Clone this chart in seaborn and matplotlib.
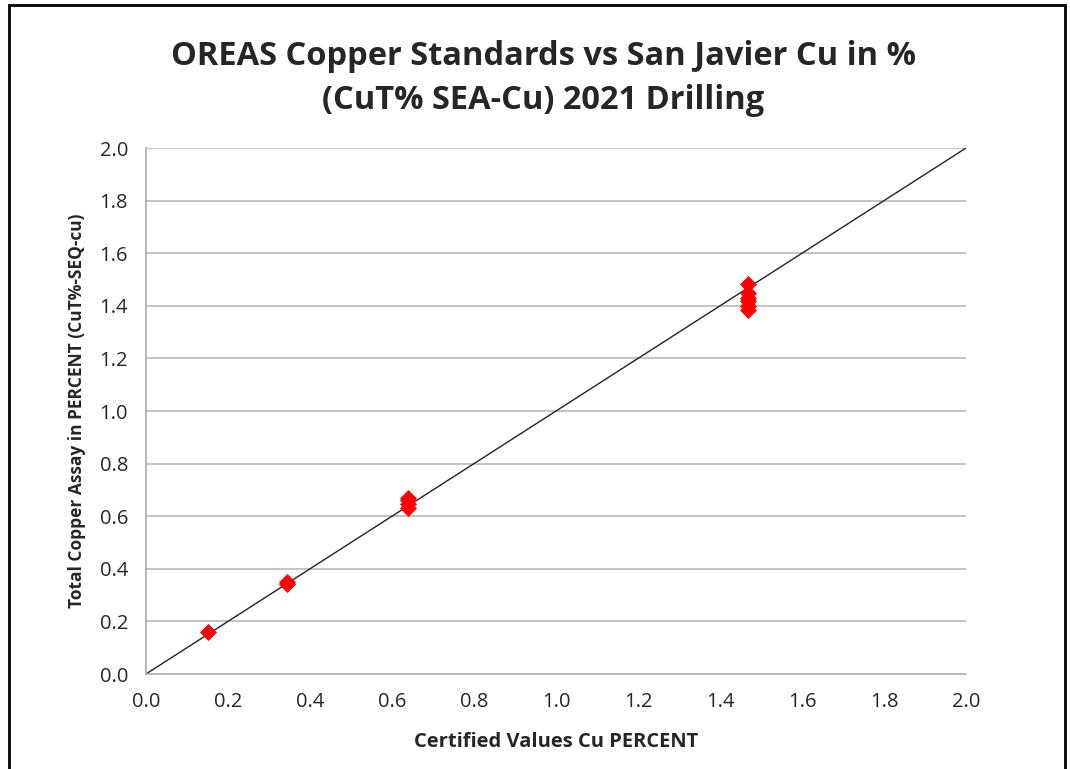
import matplotlib
matplotlib.use("Agg")
import matplotlib.pyplot as plt
import seaborn as sns
import pandas as pd
from matplotlib.patches import Rectangle

# --- data ---
certified = [0.152, 0.344, 0.344,
             0.638, 0.638, 0.638, 0.638,
             1.468, 1.468, 1.468, 1.468, 1.468, 1.468]
assay = [0.160, 0.342, 0.350,
         0.630, 0.645, 0.660, 0.668,
         1.482, 1.450, 1.430, 1.420, 1.400, 1.385]
line_x = [0.0, 2.0]
line_y = [0.0, 2.0]
ticks = [0.0, 0.2, 0.4, 0.6, 0.8, 1.0, 1.2, 1.4, 1.6, 1.8, 2.0]

df = pd.DataFrame({"Certified": certified, "Assay": assay})

sns.set_theme(style="white")
plt.rcParams['font.family'] = ['Open Sans', 'DejaVu Sans']

fig = plt.figure(figsize=(10.7, 7.69), dpi=100)
ax = fig.add_axes([0.1364, 0.1235, 0.7664, 0.684])

# grid first so it sits under the data
for t in ticks[1:]:
    ax.axhline(t, color='#b3b3b3', lw=1.1, zorder=0)

ax.plot(line_x, line_y, color='#222222', lw=1.0, zorder=2)
sns.scatterplot(data=df, x="Certified", y="Assay", marker='D', s=75,
                color='#ff0000', edgecolor='#ff0000', linewidth=0, ax=ax, zorder=3)

ax.set_xlim(0, 2.0)
ax.set_ylim(0, 2.0)
ax.set_xticks(ticks)
ax.set_yticks(ticks)
ax.set_xticklabels([f"{t:.1f}" for t in ticks], fontsize=14.5)
ax.set_yticklabels([f"{t:.1f}" for t in ticks], fontsize=14.5)
ax.tick_params(axis='both', direction='out', length=6, width=1, color='#a6a6a6', pad=7)
for side in ['top', 'right']:
    ax.spines[side].set_visible(False)
for side in ['left', 'bottom']:
    ax.spines[side].set_color('#a6a6a6')
    ax.spines[side].set_linewidth(1.1)

ax.set_xlabel("Certified Values Cu PERCENT", fontsize=14.5, fontweight='bold', labelpad=14)
ax.set_ylabel("Total Copper Assay in PERCENT (CuT%-SEQ-cu)", fontsize=12.5, fontweight='bold', labelpad=10)

fig.text(0.508, 0.898, "OREAS Copper Standards vs San Javier Cu in %\n(CuT% SEA-Cu) 2021 Drilling",
         ha='center', va='center', fontsize=23.5, fontweight='bold', linespacing=1.42)

# outer frame around the chart
fig.patches.append(Rectangle((0.008, -0.01), 0.987, 1.003, transform=fig.transFigure,
                             fill=False, edgecolor='black', lw=2))

fig.savefig("out.png", dpi=100)
